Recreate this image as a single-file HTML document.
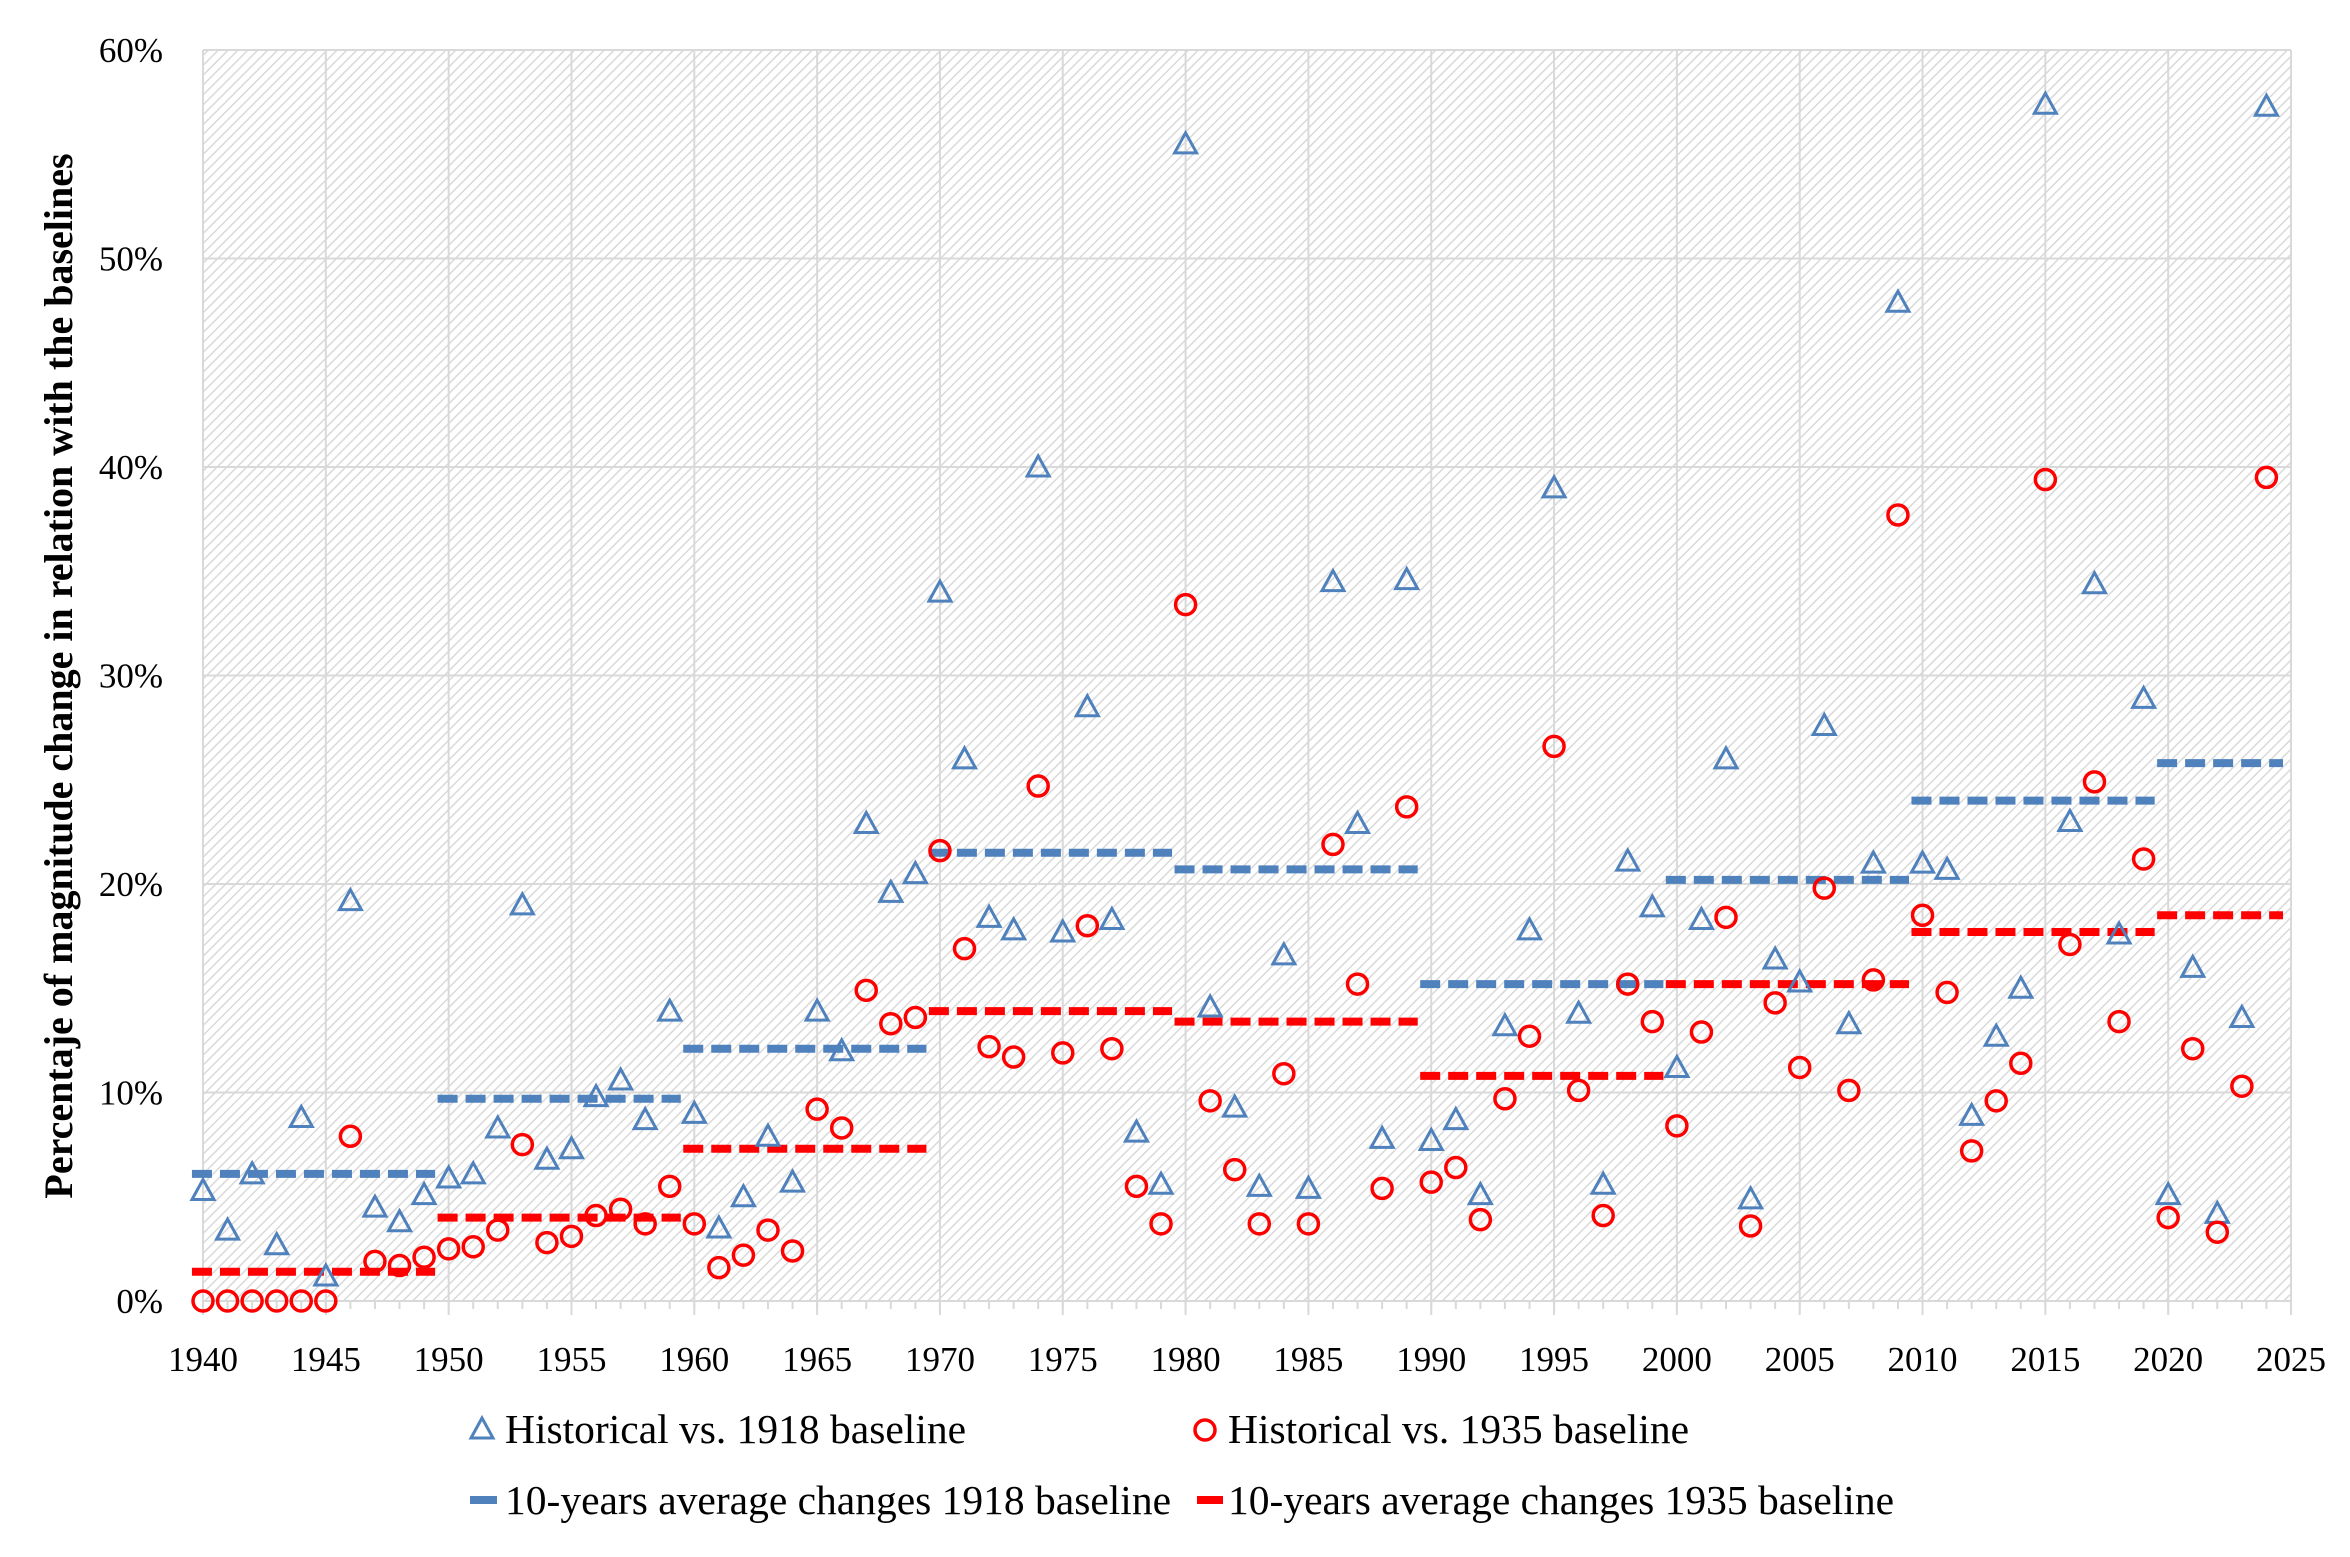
<!DOCTYPE html>
<html><head><meta charset="utf-8"><style>
html,body{margin:0;padding:0;background:#fff;}
svg{display:block;font-family:"Liberation Serif",serif;}
</style></head><body>
<svg id="chart" width="2350" height="1557" viewBox="0 0 2350 1557" xmlns="http://www.w3.org/2000/svg">
<defs>
<pattern id="hatch" patternUnits="userSpaceOnUse" width="7" height="7" patternTransform="rotate(45)">
<rect width="7" height="7" fill="#fff"/>
<line x1="0" y1="0" x2="0" y2="7" stroke="#d9d9d9" stroke-width="3"/>
</pattern>
</defs>
<g id="plot"></g>
<text transform="translate(72,676) rotate(-90)" text-anchor="middle" font-size="40" font-weight="bold" fill="#000">Percentaje of magnitude change in relation with the baselines</text>
<g>
<polygon points="482,1418 471,1438 493,1438" fill="none" stroke="#4f81bd" stroke-width="3"/>
<text x="505" y="1443" font-size="41.5">Historical vs. 1918 baseline</text>
<circle cx="1205" cy="1430" r="10" fill="none" stroke="#ff0000" stroke-width="3.5"/>
<text x="1228" y="1443" font-size="41.5">Historical vs. 1935 baseline</text>
<line x1="470" y1="1500" x2="497" y2="1500" stroke="#4f81bd" stroke-width="8"/>
<text x="505" y="1514" font-size="41.5">10-years average changes 1918 baseline</text>
<line x1="1197" y1="1500" x2="1223" y2="1500" stroke="#ff0000" stroke-width="8"/>
<text x="1228" y="1514" font-size="41.5">10-years average changes 1935 baseline</text>
</g>
</svg>
<script>
const years = [];
for (let y = 1940; y <= 2024; y++) years.push(y);
const hist1918 = [5.3,3.4,6.1,2.7,8.8,1.2,19.2,4.5,3.8,5.1,
5.9,6.1,8.3,19.0,6.8,7.3,9.8,10.6,8.7,13.9,
9.0,3.5,5.0,7.9,5.7,13.9,12.0,22.9,19.6,20.5,
34.0,26.0,18.4,17.8,40.0,17.7,28.5,18.3,8.1,5.6,
55.5,14.1,9.3,5.5,16.6,5.4,34.5,22.9,7.8,34.6,
7.7,8.7,5.1,13.2,17.8,39.0,13.8,5.6,21.1,18.9,
11.2,18.3,26.0,4.9,16.4,15.3,27.6,13.3,21.0,47.9,
21.0,20.7,8.9,12.7,15.0,57.4,23.0,34.4,17.6,28.9,
5.1,16.0,4.2,13.6,57.3];
const hist1935 = [0,0,0,0,0,0,7.9,1.9,1.7,2.1,
2.5,2.6,3.4,7.5,2.8,3.1,4.1,4.4,3.7,5.5,
3.7,1.6,2.2,3.4,2.4,9.2,8.3,14.9,13.3,13.6,
21.6,16.9,12.2,11.7,24.7,11.9,18.0,12.1,5.5,3.7,
33.4,9.6,6.3,3.7,10.9,3.7,21.9,15.2,5.4,23.7,
5.7,6.4,3.9,9.7,12.7,26.6,10.1,4.1,15.2,13.4,
8.4,12.9,18.4,3.6,14.3,11.2,19.8,10.1,15.4,37.7,
18.5,14.8,7.2,9.6,11.4,39.4,17.1,24.9,13.4,21.2,
4.0,12.1,3.3,10.3,39.5];
const decadeStarts = [1940,1950,1960,1970,1980,1990,2000,2010,2020];
const avg1918 = [6.1,9.7,12.1,21.5,20.7,15.2,20.2,24.0,25.8];
const avg1935 = [1.4,4.0,7.3,13.9,13.4,10.8,15.2,17.7,18.5];
const yTicks = [0,10,20,30,40,50,60];
const xTicks = [1940,1945,1950,1955,1960,1965,1970,1975,1980,1985,1990,1995,2000,2005,2010,2015,2020,2025];

const L=203,R=2291,T=50,B=1301;
const xs = v => L + (v-1940)/85*(R-L);
const ys = v => B - v/60*(B-T);
const NS='http://www.w3.org/2000/svg';
const g=document.getElementById('plot');
function mk(tag,attrs,parent){const e=document.createElementNS(NS,tag);for(const k in attrs)e.setAttribute(k,attrs[k]);(parent||g).appendChild(e);return e;}

const bg=mk('rect',{x:L,y:T,width:R-L,height:B-T,fill:'url(#hatch)'});



yTicks.forEach(t=>{
  const ln=mk('line',{x1:L,x2:R,y1:ys(t),y2:ys(t),stroke:'#d9d9d9','stroke-width':2});
  
  
  const tx=mk('text',{x:163,y:ys(t)+12,'text-anchor':'end','font-size':35});
  tx.textContent=t+'%';
  
  
});
xTicks.forEach(t=>{
  const ln=mk('line',{x1:xs(t),x2:xs(t),y1:T,y2:B+14,stroke:'#d9d9d9','stroke-width':2});
  
  
  const tx=mk('text',{x:xs(t),y:1371,'text-anchor':'middle','font-size':35});
  tx.textContent=t;
  
  
});
years.forEach(y=>{
  const ln=mk('line',{x1:xs(y),x2:xs(y),y1:B,y2:B+8,stroke:'#d9d9d9','stroke-width':2});
  
  
});

function avgLine(arr,color,name){
  decadeStarts.forEach((d,i)=>{
    const ln=mk('line',{x1:xs(d-0.45),x2:Math.min(xs(d+9.45),R-8),y1:ys(arr[i]),y2:ys(arr[i]),stroke:color,'stroke-width':8,'stroke-dasharray':'20 8'});
    
    
  });
}
avgLine(avg1918,'#4f81bd','avg-line-1918');
avgLine(avg1935,'#ff0000','avg-line-1935');

years.forEach((y,i)=>{
  const cx=xs(y),cy=ys(hist1918[i]);
  const p=mk('polygon',{points:`${cx},${cy-11} ${cx-11},${cy+9} ${cx+11},${cy+9}`,fill:'none',stroke:'#4f81bd','stroke-width':3});
  
  
});
years.forEach((y,i)=>{
  const c=mk('circle',{cx:xs(y),cy:ys(hist1935[i]),r:10,fill:'none',stroke:'#ff0000','stroke-width':3.5});
  
  
});
</script>
</body></html>
